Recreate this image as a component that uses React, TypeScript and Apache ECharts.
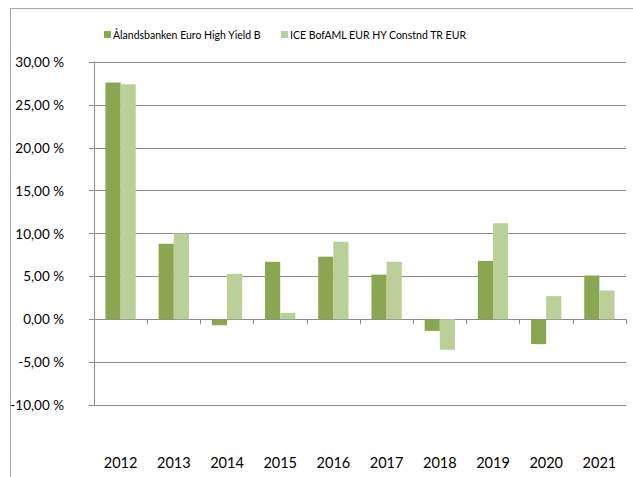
import React, { useEffect, useRef } from "react";
import * as echarts from "echarts";

const years = ["2012", "2013", "2014", "2015", "2016", "2017", "2018", "2019", "2020", "2021"];
const fundName = "Ålandsbanken Euro High Yield B";
const indexName = "ICE BofAML EUR HY Constnd TR EUR";
const fundValues = [27.6, 8.8, -0.7, 6.7, 7.3, 5.2, -1.35, 6.8, -2.9, 5.1];
const indexValues = [27.4, 10.0, 5.3, 0.75, 9.05, 6.7, -3.55, 11.2, 2.7, 3.35];
const yTicks = { min: -10, max: 30, interval: 5 };

const FONT = "Lato, 'Open Sans', sans-serif";

export default function App() {
  const ref = useRef<HTMLDivElement>(null);
  useEffect(() => {
    const chart = echarts.init(ref.current!, null, { renderer: "svg" });
    chart.setOption({
      animation: false,
      backgroundColor: "#ffffff",
      textStyle: { fontFamily: FONT },
      graphic: [
        {
          type: "rect",
          shape: { x: 10.5, y: 8.5, width: 700, height: 600 },
          style: { fill: "none", stroke: "#a6a6a6", lineWidth: 1 },
          silent: true,
        },
      ],
      legend: {
        left: 99,
        top: 24,
        itemWidth: 7,
        itemHeight: 7,
        itemGap: 20,
        icon: "rect",
        textStyle: { fontSize: 10.5, color: "#000", fontFamily: FONT, padding: [0, 0, 0, -3] },
        data: [fundName, indexName],
      },
      grid: { left: 94, right: 7, top: 62, bottom: 72, containLabel: false },
      xAxis: [
        {
          type: "category",
          data: years,
          axisLine: { onZero: true, lineStyle: { color: "#8c8c8c", width: 1 } },
          axisTick: { show: true, length: 5, lineStyle: { color: "#8c8c8c" } },
          axisLabel: { show: false },
        },
        {
          type: "category",
          data: years,
          position: "bottom",
          axisLine: { show: false, onZero: false },
          axisTick: { show: false },
          axisLabel: { show: true, margin: 50, fontSize: 14.5, color: "#000", fontFamily: FONT },
        },
      ],
      yAxis: {
        type: "value",
        min: yTicks.min,
        max: yTicks.max,
        interval: yTicks.interval,
        axisLine: { show: true, lineStyle: { color: "#8c8c8c" } },
        axisTick: { show: true, length: 5, lineStyle: { color: "#8c8c8c" } },
        splitLine: { show: true, lineStyle: { color: "#8c8c8c", width: 1 } },
        axisLabel: {
          margin: 30,
          fontSize: 13.5,
          color: "#000",
          fontFamily: FONT,
          formatter: (v: number) => v.toFixed(2).replace(".", ",") + " %",
        },
      },
      series: [
        {
          name: fundName,
          type: "bar",
          xAxisIndex: 0,
          data: fundValues,
          barGap: "0%",
          barCategoryGap: "43%",
          itemStyle: { color: "#8aa651" },
        },
        {
          name: indexName,
          type: "bar",
          xAxisIndex: 0,
          data: indexValues,
          barGap: "0%",
          barCategoryGap: "43%",
          itemStyle: { color: "#bbd098" },
        },
      ],
    });
    return () => chart.dispose();
  }, []);
  return (
    <div
      ref={ref}
      style={{ position: "absolute", left: 0, top: 0, width: 633, height: 477 }}
    />
  );
}
